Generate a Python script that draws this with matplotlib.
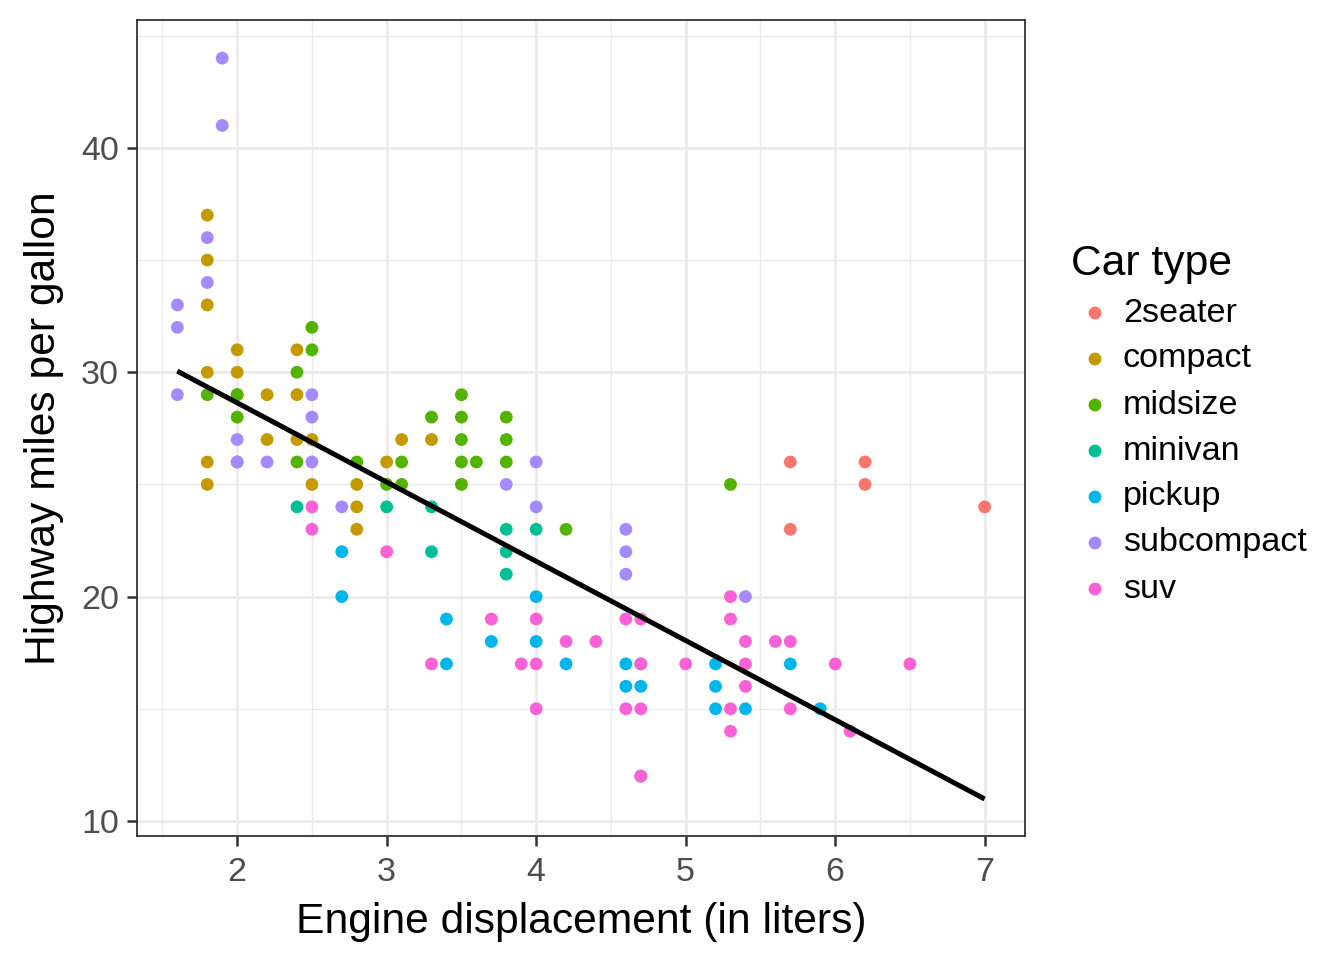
import matplotlib
matplotlib.use("Agg")
import matplotlib.pyplot as plt
from matplotlib.ticker import MultipleLocator

plt.rcParams['font.family'] = ['Liberation Sans', 'DejaVu Sans']

# mpg data: engine displacement (x) and highway mpg (y) per class
classes = ['2seater', 'compact', 'midsize', 'minivan', 'pickup', 'subcompact', 'suv']
colors = ['#F8766D', '#C49A00', '#53B400', '#00C094', '#00B6EB', '#A58AFF', '#FB61D7']

twoseater_x = [5.7, 5.7, 6.2, 6.2, 7.0]
twoseater_y = [26, 23, 26, 25, 24]

compact_x = [1.8, 1.8, 1.8, 1.8, 1.8, 1.8, 2.0, 2.0, 2.0, 2.0, 2.2, 2.2,
             2.4, 2.4, 2.4, 2.5, 2.5, 2.8, 2.8, 2.8, 3.0, 3.1, 3.3]
compact_y = [37, 35, 33, 30, 26, 25, 31, 30, 29, 26, 29, 27,
             31, 29, 27, 27, 25, 25, 24, 23, 26, 27, 27]

midsize_x = [1.8, 2.0, 2.0, 2.4, 2.4, 2.5, 2.5, 2.8, 3.0, 3.1, 3.1, 3.3,
             3.5, 3.5, 3.5, 3.5, 3.5, 3.6, 3.8, 3.8, 3.8, 4.2, 5.3]
midsize_y = [29, 29, 28, 30, 26, 32, 31, 26, 25, 26, 25, 28,
             29, 28, 27, 26, 25, 26, 28, 27, 26, 23, 25]

minivan_x = [2.4, 3.0, 3.3, 3.3, 3.8, 3.8, 3.8, 4.0]
minivan_y = [24, 24, 24, 22, 23, 22, 21, 23]

pickup_x = [2.7, 2.7, 3.4, 3.4, 3.7, 4.0, 4.0, 4.2, 4.6, 4.6, 4.7, 4.7, 4.7,
            5.2, 5.2, 5.2, 5.4, 5.7, 5.9]
pickup_y = [22, 20, 19, 17, 18, 20, 18, 17, 17, 16, 17, 16, 12,
            17, 16, 15, 15, 17, 15]

subcompact_x = [1.6, 1.6, 1.6, 1.8, 1.8, 1.9, 1.9, 2.0, 2.0, 2.2, 2.5, 2.5, 2.5,
                2.7, 3.8, 4.0, 4.0, 4.6, 4.6, 4.6, 5.4]
subcompact_y = [33, 32, 29, 36, 34, 44, 41, 27, 26, 26, 29, 28, 26,
                24, 25, 26, 24, 23, 22, 21, 20]

suv_x = [2.5, 2.5, 3.0, 3.3, 3.7, 3.9, 4.0, 4.0, 4.0, 4.2, 4.4, 4.6, 4.6,
         4.7, 4.7, 4.7, 4.7, 5.0, 5.3, 5.3, 5.3, 5.3, 5.4, 5.4, 5.4, 5.6,
         5.7, 5.7, 6.0, 6.1, 6.5]
suv_y = [24, 23, 22, 17, 19, 17, 19, 17, 15, 18, 18, 19, 15,
         19, 17, 15, 12, 17, 20, 19, 15, 14, 18, 17, 16, 18,
         18, 15, 17, 14, 17]

xs = [twoseater_x, compact_x, midsize_x, minivan_x, pickup_x, subcompact_x, suv_x]
ys = [twoseater_y, compact_y, midsize_y, minivan_y, pickup_y, subcompact_y, suv_y]

# linear fit line end points (lm over the full data set)
fit_x = [1.6, 7.0]
fit_y = [30.05, 10.98]

fig = plt.figure(figsize=(13.44, 9.6), dpi=100)
ax = fig.add_axes([137 / 1344, 124 / 960, 888 / 1344, 816 / 960])

for x, y, c in zip(xs, ys, colors):
    ax.scatter(x, y, s=85, color=c, edgecolors='none', zorder=3)

ax.plot(fit_x, fit_y, color='black', lw=3.6, zorder=4, solid_capstyle='butt')

ax.set_xlim(1.33, 7.27)
ax.set_ylim(9.33, 45.7)
ax.xaxis.set_major_locator(MultipleLocator(1))
ax.xaxis.set_minor_locator(MultipleLocator(0.5))
ax.yaxis.set_major_locator(MultipleLocator(10))
ax.yaxis.set_minor_locator(MultipleLocator(5))
ax.grid(which='major', color='#EBEBEB', lw=2.0, zorder=0)
ax.grid(which='minor', color='#EBEBEB', lw=1.0, zorder=0)
ax.set_axisbelow(True)

for s in ax.spines.values():
    s.set_color('#333333')
    s.set_linewidth(1.3)

ax.tick_params(which='major', direction='out', length=7, width=1.8, color='#333333',
               labelsize=24.5, labelcolor='#4D4D4D', pad=6)
ax.tick_params(axis='x', which='major', pad=8)
ax.tick_params(which='minor', length=0)

ax.set_xlabel('Engine displacement (in liters)', fontsize=30.7, labelpad=10)
ax.set_ylabel('Highway miles per gallon', fontsize=30.7, labelpad=12)

# legend drawn in pixel coordinates
lax = fig.add_axes([0, 0, 1, 1])
lax.set_xlim(0, 1344)
lax.set_ylim(960, 0)
lax.axis('off')
lax.text(1071, 264, 'Car type', fontsize=30.7, va='center', ha='left')
for i, (name, c) in enumerate(zip(classes, colors)):
    yy = 313 + i * 46
    lax.scatter([1095], [yy], s=85, color=c, edgecolors='none')
    lax.text(1123, yy, name, fontsize=24.6, va='center', ha='left')

fig.savefig('out.png', dpi=100)
